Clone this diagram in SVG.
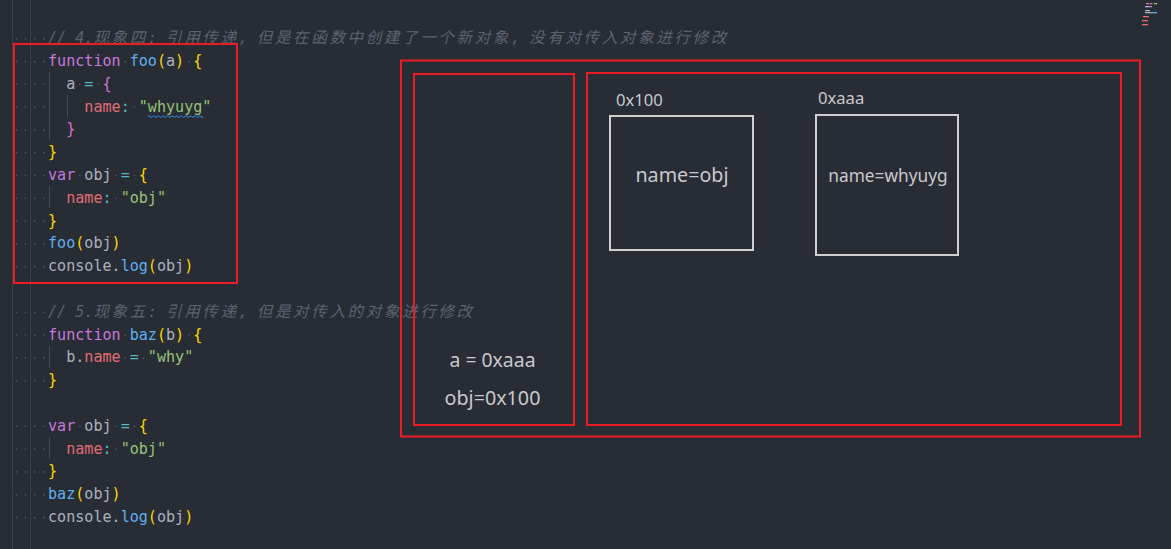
<svg xmlns="http://www.w3.org/2000/svg" width="1171" height="549" viewBox="0 0 1171 549">
<defs>
<style>
.bg{fill:#282c34}
.vguide{stroke:#3a3f4a;stroke-width:1}
.iguide{stroke:#454a55;stroke-width:1}
.code{font-family:"DejaVu Sans Mono","Liberation Mono",monospace;font-size:15.08px;fill:#abb2bf;white-space:pre}
.cmt{font-family:"DejaVu Sans Mono","Noto Sans CJK SC",monospace;font-size:15.08px;fill:#5c6370;font-style:italic;white-space:pre}
.cj{font-family:"Noto Sans CJK SC",sans-serif;font-size:15.6px;letter-spacing:2.56px}
.kw{fill:#c678dd}.fn{fill:#61afef}.br1{fill:#ffd700}.br2{fill:#da70d6}.op{fill:#56b6c2}.pr{fill:#e06c75}.st{fill:#98c379}.v{fill:#abb2bf}
.ws{fill:#4b5263}
.red{fill:none;stroke:#ec1c24;stroke-width:2}
.obj{fill:none;stroke:#cfcfcf;stroke-width:2}
.lbl{font-family:"Noto Sans","Open Sans",sans-serif;fill:#c8c9cc}
</style>
<g id="dots4">
<circle cx="16.5" cy="0" r="0.9"/><circle cx="25.6" cy="0" r="0.9"/><circle cx="34.7" cy="0" r="0.9"/><circle cx="43.8" cy="0" r="0.9"/>
</g>
</defs>
<rect class="bg" x="0" y="0" width="1171" height="549"/>
<line class="vguide" x1="12.5" y1="0" x2="12.5" y2="549"/>
<line class="vguide" x1="30.5" y1="0" x2="30.5" y2="549"/>

<g id="minimap">
<rect x="1146" y="3" width="3" height="1.3" fill="#c678dd"/><rect x="1149.5" y="3" width="3" height="1.3" fill="#e06c75"/><rect x="1154" y="3" width="3" height="1.3" fill="#98c379"/>
<rect x="1145" y="6" width="4" height="1.3" fill="#abb2bf"/><rect x="1149" y="6" width="3" height="1.3" fill="#c678dd"/>
<rect x="1145" y="10" width="5" height="1.3" fill="#abb2bf"/><rect x="1145" y="12" width="6" height="1.3" fill="#abb2bf"/><rect x="1151" y="12" width="6" height="1.3" fill="#61afef"/>
<rect x="1143" y="16" width="6" height="1.3" fill="#e06c75"/>
<rect x="1142" y="20" width="6" height="1.3" fill="#e06c75"/>
<rect x="1142" y="24" width="6" height="1.3" fill="#e06c75"/>
</g>

<g id="whitespace" class="ws">
<use href="#dots4" y="38.7"/><use href="#dots4" y="61.5"/><use href="#dots4" y="84.3"/><use href="#dots4" y="107.1"/><use href="#dots4" y="129.9"/><use href="#dots4" y="152.7"/><use href="#dots4" y="175.5"/><use href="#dots4" y="198.3"/><use href="#dots4" y="221.1"/><use href="#dots4" y="243.9"/><use href="#dots4" y="266.7"/>
<use href="#dots4" y="312.3"/><use href="#dots4" y="335.1"/><use href="#dots4" y="357.9"/><use href="#dots4" y="380.7"/><use href="#dots4" y="426.3"/><use href="#dots4" y="449.1"/><use href="#dots4" y="471.9"/><use href="#dots4" y="494.7"/><use href="#dots4" y="517.5"/>
<circle cx="125.2" cy="61.5" r="0.9"/><circle cx="188.8" cy="61.5" r="0.9"/>
<circle cx="79.8" cy="84.3" r="0.9"/><circle cx="97.9" cy="84.3" r="0.9"/>
<circle cx="134.3" cy="107.1" r="0.9"/>
<circle cx="79.8" cy="175.5" r="0.9"/><circle cx="116.1" cy="175.5" r="0.9"/><circle cx="134.3" cy="175.5" r="0.9"/>
<circle cx="116.1" cy="198.3" r="0.9"/>
<circle cx="125.2" cy="335.1" r="0.9"/><circle cx="188.8" cy="335.1" r="0.9"/>
<circle cx="125.2" cy="357.9" r="0.9"/><circle cx="143.3" cy="357.9" r="0.9"/>
<circle cx="79.8" cy="426.3" r="0.9"/><circle cx="116.1" cy="426.3" r="0.9"/><circle cx="134.3" cy="426.3" r="0.9"/>
<circle cx="116.1" cy="449.1" r="0.9"/>
</g>

<g id="indent-guides">
<line class="iguide" x1="49.5" y1="72" x2="49.5" y2="140"/>
<line class="iguide" x1="67.5" y1="95" x2="67.5" y2="117"/>
<line class="iguide" x1="49.5" y1="186" x2="49.5" y2="208"/>
<line class="iguide" x1="49.5" y1="346" x2="49.5" y2="368"/>
<line class="iguide" x1="49.5" y1="437" x2="49.5" y2="459"/>
</g>

<g id="code">
<text class="cmt" x="48" y="43.2">// 4.<tspan class="cj">现象四</tspan>: <tspan class="cj">引用传递</tspan>, <tspan class="cj">但是在函数中创建了一个新对象</tspan>, <tspan class="cj">没有对传入对象进行修改</tspan></text>
<text class="code" x="48" y="66"><tspan class="kw">function</tspan> <tspan class="fn">foo</tspan><tspan class="br1">(</tspan>a<tspan class="br1">)</tspan> <tspan class="br1">{</tspan></text>
<text class="code" x="66.16" y="88.8">a <tspan class="op">=</tspan> <tspan class="br2">{</tspan></text>
<text class="code" x="84.32" y="111.6"><tspan class="pr">name</tspan><tspan class="op">:</tspan> <tspan class="st">"whyuyg"</tspan></text>
<text class="code" x="66.16" y="134.4"><tspan class="br2">}</tspan></text>
<text class="code" x="48" y="157.2"><tspan class="br1">}</tspan></text>
<text class="code" x="48" y="180"><tspan class="kw">var</tspan> obj <tspan class="op">=</tspan> <tspan class="br1">{</tspan></text>
<text class="code" x="66.16" y="202.8"><tspan class="pr">name</tspan><tspan class="op">:</tspan> <tspan class="st">"obj"</tspan></text>
<text class="code" x="48" y="225.6"><tspan class="br1">}</tspan></text>
<text class="code" x="48" y="248.4"><tspan class="fn">foo</tspan><tspan class="br1">(</tspan>obj<tspan class="br1">)</tspan></text>
<text class="code" x="48" y="271.2">console.<tspan class="fn">log</tspan><tspan class="br1">(</tspan>obj<tspan class="br1">)</tspan></text>
<path d="M148 116.6 q1.15 -1.6 2.3 0 t2.3 0 t2.3 0 t2.3 0 t2.3 0 t2.3 0 t2.3 0 t2.3 0 t2.3 0 t2.3 0 t2.3 0 t2.3 0 t2.3 0 t2.3 0 t2.3 0 t2.3 0 t2.3 0 t2.3 0 t2.3 0 t2.3 0 t2.3 0 t2.3 0 t2.3 0 t2.3 0" fill="none" stroke="#3794ff" stroke-width="1"/>

<text class="cmt" x="48" y="316.8">// 5.<tspan class="cj">现象五</tspan>: <tspan class="cj">引用传递</tspan>, <tspan class="cj">但是对传入的对象进行修改</tspan></text>
<text class="code" x="48" y="339.6"><tspan class="kw">function</tspan> <tspan class="fn">baz</tspan><tspan class="br1">(</tspan>b<tspan class="br1">)</tspan> <tspan class="br1">{</tspan></text>
<text class="code" x="66.16" y="362.4">b.<tspan class="pr">name</tspan> <tspan class="op">=</tspan> <tspan class="st">"why"</tspan></text>
<text class="code" x="48" y="385.2"><tspan class="br1">}</tspan></text>
<text class="code" x="48" y="430.8"><tspan class="kw">var</tspan> obj <tspan class="op">=</tspan> <tspan class="br1">{</tspan></text>
<text class="code" x="66.16" y="453.6"><tspan class="pr">name</tspan><tspan class="op">:</tspan> <tspan class="st">"obj"</tspan></text>
<text class="code" x="48" y="476.4"><tspan class="br1">}</tspan></text>
<text class="code" x="48" y="499.2"><tspan class="fn">baz</tspan><tspan class="br1">(</tspan>obj<tspan class="br1">)</tspan></text>
<text class="code" x="48" y="522">console.<tspan class="fn">log</tspan><tspan class="br1">(</tspan>obj<tspan class="br1">)</tspan></text>
</g>

<g id="code-highlight">
<rect class="red" x="14" y="44" width="223" height="239"/>
</g>

<g id="memory">
<rect class="red" x="401" y="60.5" width="739" height="376"/>
</g>

<g id="stack">
<rect class="red" x="414" y="74" width="160" height="351"/>
<text class="lbl" x="492.5" y="366.5" font-size="19.4" text-anchor="middle">a = 0xaaa</text>
<text class="lbl" x="492.5" y="405" font-size="19.7" text-anchor="middle">obj=0x100</text>
</g>

<g id="heap">
<rect class="red" x="587" y="73" width="534" height="352"/>
</g>

<g id="obj-0x100">
<text class="lbl" x="616" y="106" font-size="16.6">0x100</text>
<rect class="obj" x="610" y="116" width="143" height="134"/>
<text class="lbl" x="682" y="182" font-size="19.7" text-anchor="middle">name=obj</text>
</g>

<g id="obj-0xaaa">
<text class="lbl" x="818" y="104" font-size="16.6">0xaaa</text>
<rect class="obj" x="816" y="115" width="142" height="140"/>
<text class="lbl" x="888" y="182" font-size="17.3" text-anchor="middle">name=whyuyg</text>
</g>

<g id="connectors"/>
</svg>
